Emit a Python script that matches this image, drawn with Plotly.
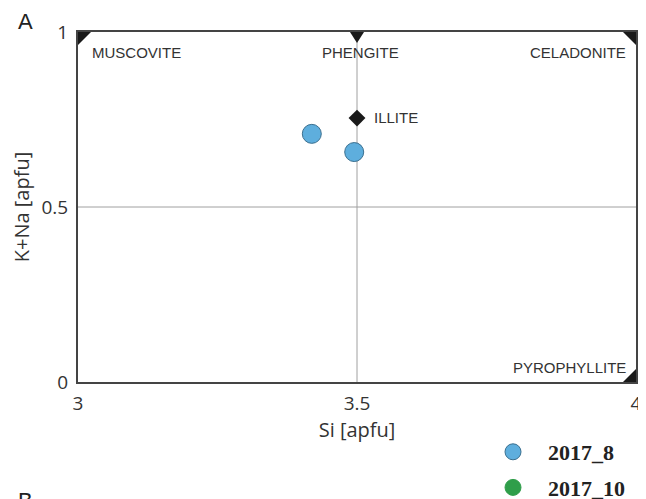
import plotly.graph_objects as go

# Data
si_2017_8 = [3.419, 3.495]
kna_2017_8 = [0.709, 0.657]
si_2017_10 = []
kna_2017_10 = []
illite_si = [3.5]
illite_kna = [0.754]
ref_si = 3.5
ref_kna = 0.5
field_labels = ["MUSCOVITE", "PHENGITE", "CELADONITE", "PYROPHYLLITE"]
field_x = [3.0, 3.5, 4.0, 4.0]
field_y = [1.0, 1.0, 1.0, 0.0]

OFF = 8  # page body margin
W, H = 646 - OFF, 499 - OFF
L, R, T, B = 78 - OFF, 10, 32 - OFF, 117
PW, PH = W - L - R, H - T - B


def px(xw):
    return (xw - OFF - L) / PW


def py(yw):
    return (H - B - (yw - OFF)) / PH


fig = go.Figure()

# reference lines
fig.add_shape(type="line", x0=ref_si, x1=ref_si, y0=0, y1=1, xref="x", yref="y",
              line=dict(color="#a0a0a0", width=1), layer="below")
fig.add_shape(type="line", x0=3, x1=4, y0=ref_kna, y1=ref_kna, xref="x", yref="y",
              line=dict(color="#a0a0a0", width=1), layer="below")

# corner triangles (pixel-sized, anchored to data corners)
tri = 13
paths = [
    f"M0,0 L{tri},0 L0,-{tri} Z",      # top-left
    "M-7,0 L7,0 L0,-11 Z",             # top-center, pointing down
    f"M0,0 L-{tri},0 L0,-{tri} Z",     # top-right
    f"M0,0 L-{tri},0 L0,{tri} Z",      # bottom-right
]
anchors = [(3.0, 1.0), (3.5, 1.0), (4.0, 1.0), (4.0, 0.0)]
for p, (ax_, ay_) in zip(paths, anchors):
    fig.add_shape(type="path", path=p, xsizemode="pixel", ysizemode="pixel",
                  xanchor=ax_, yanchor=ay_, xref="x", yref="y",
                  fillcolor="#1a1a1a", line=dict(width=0))

fig.add_trace(go.Scatter(
    x=illite_si, y=illite_kna, mode="markers",
    marker=dict(symbol="diamond", size=13, color="#1a1a1a"), showlegend=False, hoverinfo="skip"))
fig.add_annotation(x=illite_si[0], y=illite_kna[0], xref="x", yref="y", text="ILLITE", showarrow=False,
                   xanchor="left", yanchor="middle", xshift=15, yshift=1,
                   font=dict(family="Liberation Sans", size=15, color="#333"))

fig.add_trace(go.Scatter(
    x=si_2017_8, y=kna_2017_8, mode="markers", name="2017_8", legendgroup="a",
    marker=dict(size=19, color="#5eaedd", line=dict(color="#3a6f8f", width=1))))
fig.add_trace(go.Scatter(
    x=si_2017_10 or [None], y=kna_2017_10 or [None], mode="markers", name="2017_10", legendgroup="b",
    marker=dict(size=19, color="#2f9e4a", line=dict(color="#2f9e4a", width=1))))

# field labels
offs = [(12, -20, "left"), (3, -20, "center"), (-8, -20, "right"), (-8, 15, "right")]
for lab, fx, fy, (dx, dy, al) in zip(field_labels, field_x, field_y, offs):
    fig.add_annotation(x=fx, y=fy, xref="x", yref="y", text=lab, showarrow=False,
                       xanchor=al, yanchor="middle", xshift=dx, yshift=dy,
                       font=dict(family="Liberation Sans", size=15, color="#333"))

fig.add_annotation(x=px(16), y=py(21), xref="paper", yref="paper", text="A", showarrow=False,
                   xanchor="left", yanchor="middle", font=dict(family="Liberation Sans", size=22, color="#222"))
fig.add_annotation(x=px(16), y=py(500), xref="paper", yref="paper", text="B", showarrow=False,
                   xanchor="left", yanchor="middle", font=dict(family="Liberation Sans", size=22, color="#222"))

fig.update_layout(
    width=W, height=H, margin=dict(l=L, r=R, t=T, b=B, autoexpand=False),
    paper_bgcolor="white", plot_bgcolor="white",
    font=dict(family="Open Sans", color="#333"),
    xaxis=dict(range=[3, 4], tickvals=[3, 3.5, 4], ticktext=["3", "3.5", "4"],
               showgrid=False, zeroline=False, showline=True, mirror=True,
               linecolor="#444", linewidth=2, ticks="", ticklabelstandoff=3,
               tickfont=dict(size=19, color="#333"),
               title=dict(text="Si [apfu]", font=dict(size=20, color="#333"), standoff=8)),
    yaxis=dict(range=[0, 1], tickvals=[0, 0.5, 1], ticktext=["0", "0.5", "1"],
               showgrid=False, zeroline=False, showline=True, mirror=True,
               linecolor="#444", linewidth=2, ticks="", ticklabelstandoff=4,
               tickfont=dict(size=19, color="#333"),
               title=dict(text="K+Na [apfu]", font=dict(size=20, color="#333"), standoff=7)),
    legend=dict(x=px(478), y=py(431), xanchor="left", yanchor="top", itemwidth=60,
                font=dict(family="Liberation Serif", size=22, color="#222", weight="bold"),
                bgcolor="rgba(0,0,0,0)", tracegroupgap=4, itemsizing="trace"),
)

fig.write_html("out.html")
